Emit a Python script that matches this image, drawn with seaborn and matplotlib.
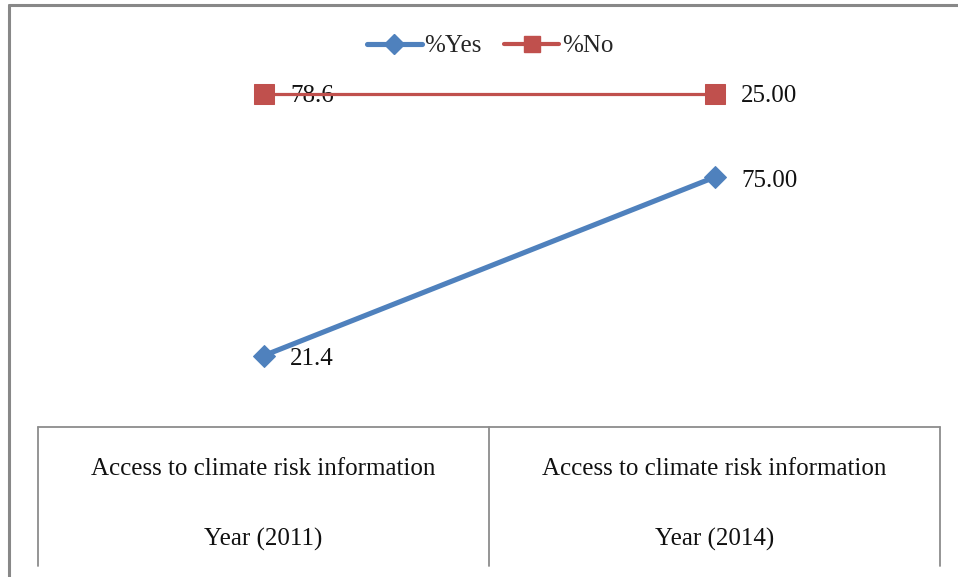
import matplotlib
matplotlib.use("Agg")
import matplotlib.pyplot as plt
from matplotlib.lines import Line2D
import pandas as pd
import seaborn as sns

# Survey shares (%) of respondents with access to climate risk information
years = ["Year (2011)", "Year (2014)"]
category = "Access to climate risk information"
pct_yes = [21.4, 75.00]
pct_no = [78.6, 25.00]
yes_labels = ["21.4", "75.00"]
no_labels = ["78.6", "25.00"]

sns.set_theme(style="white")
plt.rcParams["font.family"] = ["Liberation Serif", "DejaVu Serif"]

BLUE = "#4F81BD"
RED = "#C0504D"
FS = 18

# Stacked line chart: %No is drawn on top of %Yes
df = pd.DataFrame({
    "pos": [0, 1],
    "yes": pct_yes,
    "stack_no": [y + n for y, n in zip(pct_yes, pct_no)],
})

W, H = 958, 577
fig = plt.figure(figsize=(W / 100, H / 100), dpi=100)

def fx(px):
    return px / W

def fy(py):
    return 1 - py / H

ax = fig.add_axes([fx(38), fy(427), fx(940) - fx(38), fy(94) - fy(427)])

sns.lineplot(data=df, x="pos", y="yes", ax=ax, color=BLUE, linewidth=3.7,
             marker="D", markersize=11.5, markeredgecolor=BLUE, clip_on=False)
sns.lineplot(data=df, x="pos", y="stack_no", ax=ax, color=RED, linewidth=2.3,
             marker="s", markersize=14.5, markeredgecolor=RED, clip_on=False,
             zorder=1)

ax.set_xlim(-0.5, 1.5)
ax.set_ylim(0, 100)
ax.set_xlabel("")
ax.set_ylabel("")
ax.set_xticks([])
ax.set_yticks([])
for s in ax.spines.values():
    s.set_visible(False)

# Data labels to the right of each marker
for i in range(2):
    ax.annotate(yes_labels[i], (df["pos"][i], df["yes"][i]), xytext=(19, -2.5),
                textcoords="offset points", ha="left", va="center",
                fontsize=FS, color="#111111")
    ax.annotate(no_labels[i], (df["pos"][i], df["stack_no"][i]), xytext=(19, -1.5),
                textcoords="offset points", ha="left", va="center",
                fontsize=FS, color="#111111", zorder=0)

# Category table below the plot area
gray = "#8c8c8c"
fig.add_artist(Line2D([fx(38), fx(940)], [fy(427), fy(427)], color=gray, lw=1.3))
for px in (38, 489, 940):
    fig.add_artist(Line2D([fx(px), fx(px)], [fy(427), fy(566)], color=gray, lw=1.3))
for i, yr in enumerate(years):
    cx = fx(38 + (i + 0.5) * (940 - 38) / 2)
    fig.text(cx, fy(469), category, ha="center", va="center", fontsize=FS, color="#111111")
    fig.text(cx, fy(539), yr, ha="center", va="center", fontsize=FS, color="#111111")

# Outer chart frame
fig.add_artist(Line2D([fx(8.5), fx(958)], [fy(4.5), fy(4.5)], color="#888888", lw=2.2))
fig.add_artist(Line2D([fx(8.5), fx(8.5)], [fy(4.5), fy(577)], color="#888888", lw=2.2))

# Legend
handles = [
    Line2D([], [], color=BLUE, lw=3.7, marker="D", markersize=10),
    Line2D([], [], color=RED, lw=3.0, marker="s", markersize=12),
]
fig.legend(handles, ["%Yes", "%No"], loc="center", bbox_to_anchor=(fx(490), fy(46)),
           ncol=2, frameon=False, fontsize=FS, handlelength=2.2, handletextpad=0.1,
           columnspacing=0.9)

fig.savefig("out.png", dpi=100)
